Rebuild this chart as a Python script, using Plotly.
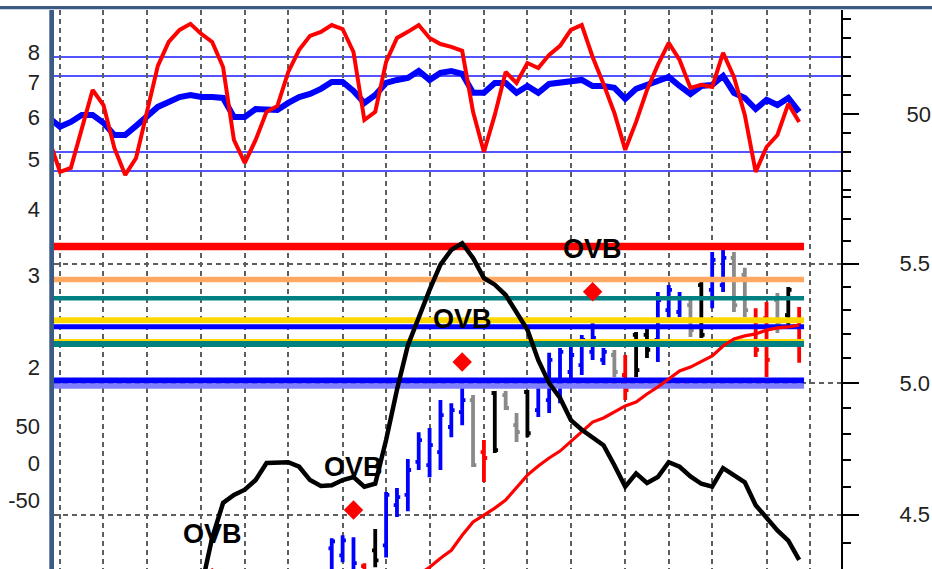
import math
import plotly.graph_objects as go

# ---------------- data ----------------
# vertical (weekly) grid positions, in bar index units
GRID_IDX = [0, 4, 8, 13, 17, 21, 26, 30, 34, 39, 43, 47, 52, 56, 60, 65, 69]

# price bars (index 25 .. 68)
BAR_START = 25
BAR_COLOR = ["blue", "blue", "blue", "red", "black", "blue", "blue", "blue", "blue", "blue",
             "blue", "blue", "blue", "gray", "red", "black", "gray", "gray", "black", "blue",
             "blue", "blue", "blue", "blue", "blue", "blue", "gray", "red", "black", "black",
             "blue", "blue", "blue", "gray", "black", "blue", "blue", "gray", "gray", "red",
             "red", "gray", "black", "red"]
BAR_OPEN = [4.381, 4.356, 4.288, 4.319, 4.374, 4.391, 4.535, 4.572, 4.694, 4.682,
            4.731, 4.827, 4.885, 4.932, 4.731, 4.960, 4.952, 4.834, 4.964, 4.893,
            4.932, 4.992, 5.044, 5.072, 5.126, 5.093, 5.113, 5.032, 5.196, 5.196,
            5.175, 5.300, 5.292, 5.321, 5.407, 5.386, 5.407, 5.526, 5.451, 5.258,
            5.266, 5.343, 5.279, 5.258]
BAR_HIGH = [4.416, 4.427, 4.420, 4.329, 4.449, 4.583, 4.597, 4.705, 4.807, 4.823,
            4.932, 4.920, 4.980, 4.952, 4.777, 4.968, 4.968, 4.881, 4.972, 5.020,
            5.122, 5.142, 5.155, 5.196, 5.245, 5.142, 5.134, 5.113, 5.208, 5.225,
            5.377, 5.407, 5.377, 5.343, 5.420, 5.552, 5.561, 5.552, 5.482, 5.308,
            5.334, 5.373, 5.399, 5.313]
BAR_LOW = [4.253, 4.332, 4.236, 4.220, 4.315, 4.349, 4.492, 4.513, 4.664, 4.637,
           4.664, 4.788, 4.834, 4.675, 4.619, 4.728, 4.893, 4.770, 4.788, 4.866,
           4.881, 4.920, 5.012, 5.032, 5.093, 5.072, 5.024, 4.932, 5.024, 5.101,
           5.085, 5.271, 5.271, 5.187, 5.183, 5.308, 5.377, 5.292, 5.271, 5.105,
           5.024, 5.204, 5.237, 5.081]
BAR_CLOSE = [4.405, 4.409, 4.329, 4.253, 4.339, 4.572, 4.564, 4.664, 4.777, 4.758,
             4.873, 4.893, 4.932, 4.682, 4.709, 4.739, 4.901, 4.807, 4.803, 4.988,
             5.093, 5.126, 5.113, 5.175, 5.183, 5.126, 5.044, 4.972, 5.052, 5.134,
             5.343, 5.386, 5.352, 5.216, 5.196, 5.517, 5.526, 5.321, 5.300, 5.134,
             5.093, 5.237, 5.386, 5.154]

# red moving average (index 33 .. 68)
MA_START = 33
MA_VALUES = [4.290, 4.315, 4.346, 4.374, 4.427, 4.474, 4.499, 4.524, 4.553, 4.600,
             4.645, 4.679, 4.709, 4.735, 4.773, 4.808, 4.846, 4.862, 4.885, 4.909,
             4.924, 4.956, 4.984, 5.016, 5.048, 5.064, 5.085, 5.109, 5.150, 5.179,
             5.192, 5.200, 5.216, 5.225, 5.229, 5.237]

# horizontal price levels
LEVEL_PRICES = [5.576, 5.431, 5.350, 5.167, 5.257, 5.230, 5.158, 4.988, 5.010]
LEVEL_COLORS = ["#ff0000", "#ffa862", "#008080", "#ffd700", "#ffd700", "#0000ff",
                "#008080", "#8080ff", "#0000ff"]
LEVEL_WIDTHS = [7.5, 5.5, 4.5, 6, 6, 5, 6, 5.7, 5.7]

# OVB signals (diamonds)
SIGNAL_IDX = [14, 27, 37, 49]
SIGNAL_PRICE = [4.280, 4.517, 5.085, 5.378]
SIGNAL_TEXT = "OVB"

# top oscillator (index -1 .. 68), 0..100 scale
OSC_START = -1
OSC_RED = [36.3, 19.5, 21.6, 42.6, 62.6, 54.7, 32.1, 17.9, 26.8, 51.1,
           75.3, 87.9, 94.2, 97.4, 92.1, 87.9, 74.7, 36.3, 24.2, 36.3,
           51.1, 54.2, 72.1, 83.7, 91.1, 93.2, 96.8, 94.7, 82.6, 46.8,
           51.1, 77.4, 90.0, 93.2, 96.8, 90.0, 86.8, 85.3, 83.2, 51.1,
           30.0, 49.5, 72.1, 66.3, 76.8, 74.2, 81.1, 85.8, 94.2, 96.8,
           80.0, 65.8, 50.5, 31.1, 45.8, 62.6, 75.8, 87.4, 78.4, 63.7,
           65.3, 64.2, 82.1, 69.5, 49.5, 19.5, 32.6, 38.9, 55.3, 45.8]
OSC_BLUE = [47.9, 43.2, 45.8, 49.5, 49.5, 45.3, 38.9, 38.9, 43.7, 48.4,
            53.7, 56.3, 58.9, 60.0, 58.9, 58.9, 58.4, 48.4, 48.4, 52.6,
            52.6, 52.1, 55.8, 58.9, 60.5, 63.2, 66.8, 66.8, 62.1, 55.8,
            60.0, 66.3, 67.9, 68.9, 72.6, 67.9, 71.6, 72.6, 71.1, 61.1,
            61.1, 66.3, 66.3, 61.1, 64.7, 61.1, 65.8, 66.3, 66.8, 67.9,
            64.7, 64.7, 63.7, 57.9, 63.2, 65.3, 67.4, 69.5, 64.7, 60.5,
            64.7, 65.3, 70.0, 61.1, 58.4, 52.6, 57.4, 54.7, 58.4, 51.1]
OSC_LEVELS = [80, 70, 30, 20]
OSC_TICK_MAJOR = [50]
OSC_TICK_MINOR = [10, 20, 30, 40, 60, 70, 80, 90, 100]

# black oscillator (index 13 .. 68)
CCI_START = 13
CCI_VALUES = [-168, -101, -54, -43, -36, -23, 0, 1, 1, -5,
              -23, -31, -30, -23, -19, -32, -28, 31, 99, 159,
              197, 234, 268, 288, 297, 277, 250, 241, 227, 204,
              180, 139, 108, 88, 58, 45, 35, 24, -3, -32,
              -14, -27, -19, 1, -5, -18, -28, -32, -7, -16,
              -26, -57, -74, -91, -105, -131]
CCI_TICKS = [-50, 0, 50]
CCI_TICK_TEXT = ["-50", "0", "50"]

# other scales
PRICE_TICKS = [4.5, 5.0, 5.5]
PRICE_TICK_TEXT = ["4.5", "5.0", "5.5"]
PRICE_MINOR = [4.4, 4.6, 4.7, 4.8, 4.9, 5.1, 5.2, 5.3, 5.4, 5.6, 5.7, 5.8]
LEFT_TICKS = [2, 3, 4, 5, 6, 7, 8]

# ---------------- layout geometry ----------------
W, H = 932, 569
ML, MR, MT, MB = 54, 91, 10, 0
PW, PH = W - ML - MR, H - MT - MB
BAR_PX = 10.87
X0 = -(60 - ML) / BAR_PX
X1 = X0 + PW / BAR_PX

PRICE_RANGE = [0.63438, 0.82847]            # log10
PX_PER_DECADE = PH / (PRICE_RANGE[1] - PRICE_RANGE[0])
OSC_RANGE = [-189.5, 104.7]
LEFT_RANGE = [-0.0855, 0.9839]              # log10
CCI_RANGE = [-143.2, 612.2]

FONT = "Arial, Liberation Sans, sans-serif"
COLOR_MAP = {"blue": "#0000ff", "gray": "#8a8a8a", "black": "#000000", "red": "#ff0000"}
FRAME = "#3b5a84"
GRID = "#5e5e5e"

fig = go.Figure()

# price bars, one OHLC trace per colour
bar_idx = [BAR_START + k for k in range(len(BAR_OPEN))]
for cname, ccol in COLOR_MAP.items():
    sel = [k for k, c in enumerate(BAR_COLOR) if c == cname]
    if not sel:
        continue
    fig.add_trace(go.Ohlc(
        x=[bar_idx[k] for k in sel],
        open=[BAR_OPEN[k] for k in sel], high=[BAR_HIGH[k] for k in sel],
        low=[BAR_LOW[k] for k in sel], close=[BAR_CLOSE[k] for k in sel],
        line=dict(width=3.8),
        increasing=dict(line=dict(color=ccol, width=3.8)),
        decreasing=dict(line=dict(color=ccol, width=3.8)),
        tickwidth=0.3, yaxis="y", hoverinfo="skip", showlegend=False))

# horizontal price levels
level_end = bar_idx[-1] + 0.45
for p, c, w in zip(LEVEL_PRICES, LEVEL_COLORS, LEVEL_WIDTHS):
    fig.add_trace(go.Scatter(x=[X0, level_end], y=[p, p], mode="lines",
                             line=dict(color=c, width=w), yaxis="y",
                             hoverinfo="skip", showlegend=False))

# moving average
fig.add_trace(go.Scatter(x=[MA_START + k for k in range(len(MA_VALUES))], y=MA_VALUES,
                         mode="lines", line=dict(color="#ff0000", width=3.2),
                         yaxis="y", hoverinfo="skip", showlegend=False))

# signal diamonds
fig.add_trace(go.Scatter(x=SIGNAL_IDX, y=SIGNAL_PRICE, mode="markers",
                         marker=dict(symbol="diamond", size=15, color="#ff0000"),
                         yaxis="y", hoverinfo="skip", showlegend=False))

# top oscillator
osc_x = [OSC_START + k for k in range(len(OSC_RED))]
fig.add_trace(go.Scatter(x=osc_x, y=OSC_BLUE, mode="lines",
                         line=dict(color="#0000ff", width=6), yaxis="y2",
                         hoverinfo="skip", showlegend=False))
fig.add_trace(go.Scatter(x=osc_x, y=OSC_RED, mode="lines",
                         line=dict(color="#ff0000", width=4), yaxis="y2",
                         hoverinfo="skip", showlegend=False))

# left scale (2..8) carrier
fig.add_trace(go.Scatter(x=[X0] * len(LEFT_TICKS), y=LEFT_TICKS, mode="markers",
                         marker=dict(size=1, opacity=0), yaxis="y3",
                         hoverinfo="skip", showlegend=False))

# black oscillator
fig.add_trace(go.Scatter(x=[CCI_START + k for k in range(len(CCI_VALUES))], y=CCI_VALUES,
                         mode="lines", line=dict(color="#000000", width=4.5),
                         yaxis="y4", hoverinfo="skip", showlegend=False))

shapes = []
for lv in OSC_LEVELS:
    shapes.append(dict(type="line", xref="x domain", x0=0, x1=1, yref="y2", y0=lv, y1=lv,
                       line=dict(color="#1a1aff", width=1.5), layer="below"))
# frame bars
shapes.append(dict(type="rect", xref="paper", yref="paper", x0=-ML / PW, x1=(W - ML) / PW,
                   y0=1 + 0.7 / PH, y1=1 + 4 / PH, fillcolor=FRAME, line=dict(width=0)))
shapes.append(dict(type="rect", xref="paper", yref="paper", x0=-4.7 / PW, x1=0,
                   y0=0, y1=1, fillcolor=FRAME, line=dict(width=0)))

annotations = []
for i, p in zip(SIGNAL_IDX, SIGNAL_PRICE):
    annotations.append(dict(x=i, y=math.log10(p) + 43 / PX_PER_DECADE, xref="x", yref="y",
                            text=SIGNAL_TEXT, showarrow=False,
                            font=dict(family=FONT, size=27, color="black", weight="bold")))

tick_font = dict(family=FONT, size=22, color="#222222")

fig.update_layout(
    width=W, height=H,
    margin=dict(l=ML, r=MR, t=MT, b=MB, autoexpand=False),
    paper_bgcolor="white", plot_bgcolor="white", showlegend=False,
    shapes=shapes, annotations=annotations,
    xaxis=dict(range=[X0, X1], tickvals=GRID_IDX, showticklabels=False, ticks="",
               showgrid=True, gridcolor=GRID, griddash="5px,4px", gridwidth=1.5,
               zeroline=False, showline=False, rangeslider=dict(visible=False),
               fixedrange=True),
    yaxis=dict(type="log", range=PRICE_RANGE, side="right", anchor="x",
               tickmode="array", tickvals=PRICE_TICKS, ticktext=PRICE_TICK_TEXT,
               ticks="outside", ticklen=16, tickwidth=2, tickcolor="black",
               showline=True, linecolor="black", linewidth=2,
               showgrid=True, gridcolor=GRID, griddash="5px,4px", gridwidth=1.5,
               minor=dict(tickmode="array", tickvals=PRICE_MINOR, ticks="outside",
                          ticklen=8, tickwidth=2, tickcolor="black", showgrid=False),
               tickfont=tick_font, ticklabelstandoff=36, zeroline=False, fixedrange=True),
    yaxis2=dict(overlaying="y", side="right", anchor="x", range=OSC_RANGE,
                tickmode="array", tickvals=OSC_TICK_MAJOR,
                ticks="outside", ticklen=16, tickwidth=2, tickcolor="black",
                showline=True, linecolor="black", linewidth=2, showgrid=False,
                minor=dict(tickmode="array", tickvals=OSC_TICK_MINOR, ticks="outside",
                           ticklen=8, tickwidth=2, tickcolor="black", showgrid=False),
                tickfont=tick_font, ticklabelstandoff=43, zeroline=False, fixedrange=True),
    yaxis3=dict(overlaying="y", side="left", anchor="x", type="log", range=LEFT_RANGE,
                tickmode="array", tickvals=LEFT_TICKS, ticks="", showgrid=False,
                showline=False, tickfont=tick_font, ticklabelstandoff=13,
                zeroline=False, fixedrange=True),
    yaxis4=dict(overlaying="y", side="left", anchor="x", range=CCI_RANGE,
                tickmode="array", tickvals=CCI_TICKS, ticktext=CCI_TICK_TEXT, ticks="",
                showgrid=False, showline=False, tickfont=tick_font, ticklabelstandoff=13,
                zeroline=False, fixedrange=True),
)

fig.write_html("out.html", config={"displayModeBar": False},
               post_script="document.body.style.margin='0px';document.body.style.padding='0px';")
